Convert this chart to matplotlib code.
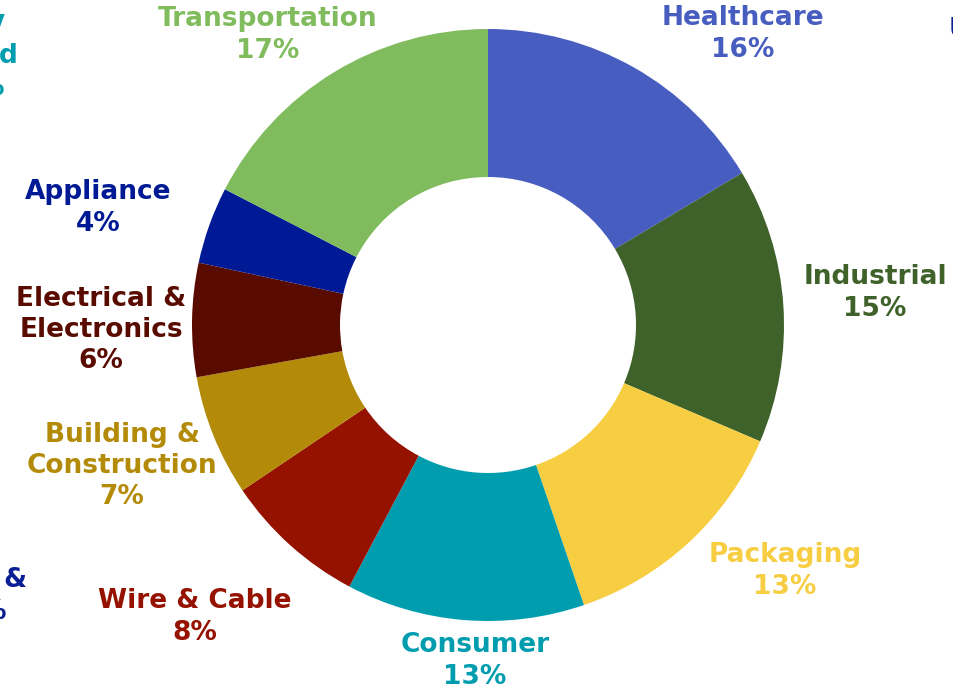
import numpy as np
import matplotlib
matplotlib.use('Agg')
import matplotlib.pyplot as plt

# market share by end-use segment (clockwise from 12 o'clock)
segments = ['Healthcare', 'Industrial', 'Packaging', 'Consumer', 'Wire & Cable',
            'Building &\nConstruction', 'Electrical &\nElectronics', 'Appliance',
            'Transportation']
shares = [16.4, 15.0, 13.3, 13.0, 7.8, 6.6, 6.2, 4.2, 17.4]
colors = ['#485dc0', '#3e622a', '#f7cd42', '#009daf', '#951100',
          '#b38b08', '#5a0b00', '#001a95', '#80bc5d']

# label anchor points in pixels (layout only)
label_pos = [(743, 34), (875, 293), (785, 571), (475, 661), (195, 617),
             (122, 466), (101, 330), (98, 208), (268, 35)]

W, H = 954, 690
fig = plt.figure(figsize=(W / 100, H / 100), dpi=100)
ax = fig.add_axes([0, 0, 1, 1])

ax.pie(shares, colors=colors, startangle=90, counterclock=False,
       center=(488, H - 325), radius=296,
       wedgeprops=dict(width=148, edgecolor='none'))
# pie resets the limits, so set them afterwards
ax.set_xlim(0, W)
ax.set_ylim(0, H)
ax.set_aspect('equal')
ax.axis('off')

font = dict(family='DejaVu Sans', weight='bold', fontsize=19)
for name, val, col, (x, y) in zip(segments, shares, colors, label_pos):
    ax.text(x, H - y, f'{name}\n{round(val)}%', color=col, ha='center',
            va='center', linespacing=1.26, **font)

# labels of neighbouring charts cut off at the edges
ax.text(5, H - 22, 'y', color='#009daf', ha='right', va='center', **font)
ax.text(18, H - 56, 'd', color='#009daf', ha='right', va='center', **font)
ax.text(4, H - 88, '%', color='#009daf', ha='right', va='center', **font)
ax.text(949, H - 30, 'U', color='#0a1f96', ha='left', va='center', **font)
ax.text(26, H - 580, '&', color='#0a1f96', ha='right', va='center', **font)
ax.text(6, H - 612, '%', color='#0a1f96', ha='right', va='center', **font)

fig.savefig('out.png', dpi=100)
